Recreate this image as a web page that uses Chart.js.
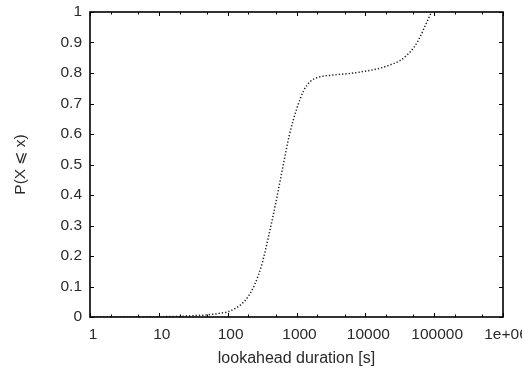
<!DOCTYPE html>
<html>
<head>
<meta charset="utf-8">
<script src="https://cdn.jsdelivr.net/npm/chart.js@4/dist/chart.umd.min.js"></script>
<style>
html,body{margin:0;padding:0;background:#fff;}
canvas{display:block;}
</style>
</head>
<body>
<canvas id="c" width="522" height="374"></canvas>
<script>
// lookahead duration [s] (x) and cumulative probability (y)
const durations = [1, 5, 10, 20, 30, 50, 70, 100, 126, 158, 200, 251, 316, 398, 501, 631, 794, 1000, 1259, 1585, 1995, 2512, 3981, 6310, 10000, 15849, 25119, 31623, 39811, 50119, 63096, 70795, 79433, 89125, 91201];
const cdf = [0, 0, 0.001, 0.002, 0.004, 0.007, 0.011, 0.017, 0.027, 0.042, 0.068, 0.11, 0.175, 0.27, 0.375, 0.49, 0.6, 0.68, 0.74, 0.772, 0.785, 0.79, 0.795, 0.799, 0.806, 0.815, 0.83, 0.84, 0.858, 0.882, 0.92, 0.945, 0.97, 0.995, 1.0];

const xTickValues = [1, 10, 100, 1000, 10000, 100000, 1000000];
const xTickLabels = ["1", "10", "100", "1000", "10000", "100000", "1e+06"];
const xMinorFactors = [2, 5];
const yTickValues = [0, 0.1, 0.2, 0.3, 0.4, 0.5, 0.6, 0.7, 0.8, 0.9, 1];
const yTickLabels = ["0", "0.1", "0.2", "0.3", "0.4", "0.5", "0.6", "0.7", "0.8", "0.9", "1"];

const xTitle = "lookahead duration [s]";
const yTitle = "P(X \u2A7D x)";

const FONT = "'Liberation Sans', Arial, Helvetica, sans-serif";
const TXT = '#2a2a2a';

const points = durations.map((d, i) => ({x: d, y: cdf[i]}));

const framePlugin = {
  id: 'frame',
  afterDatasetsDraw(chart) {
    const ctx = chart.ctx;
    const a = chart.chartArea;
    const xs = chart.scales.x, ys = chart.scales.y;
    ctx.save();
    ctx.strokeStyle = '#000';
    ctx.lineWidth = 1;
    ctx.beginPath();
    const majorLen = 4, minorLen = 2.5;
    xTickValues.forEach(v => {
      const px = Math.round(xs.getPixelForValue(v)) + 0.5;
      ctx.moveTo(px, a.bottom); ctx.lineTo(px, a.bottom - majorLen);
      ctx.moveTo(px, a.top); ctx.lineTo(px, a.top + majorLen);
      if (v < 1000000) {
        xMinorFactors.forEach(f => {
          const mx = Math.round(xs.getPixelForValue(v * f)) + 0.5;
          ctx.moveTo(mx, a.bottom); ctx.lineTo(mx, a.bottom - minorLen);
          ctx.moveTo(mx, a.top); ctx.lineTo(mx, a.top + minorLen);
        });
      }
    });
    yTickValues.forEach(v => {
      const py = Math.round(ys.getPixelForValue(v)) + 0.5;
      ctx.moveTo(a.left, py); ctx.lineTo(a.left + majorLen, py);
      ctx.moveTo(a.right, py); ctx.lineTo(a.right - majorLen, py);
    });
    ctx.stroke();
    ctx.lineWidth = 1.6;
    ctx.strokeRect(a.left, a.top, a.right - a.left, a.bottom - a.top);
    ctx.restore();
  }
};

new Chart(document.getElementById('c'), {
  type: 'scatter',
  data: {
    datasets: [{
      data: points,
      showLine: true,
      borderColor: '#222',
      borderWidth: 1.5,
      borderDash: [1.3, 2],
      pointRadius: 0,
      fill: false,
      cubicInterpolationMode: 'monotone'
    }]
  },
  options: {
    responsive: false,
    animation: false,
    devicePixelRatio: 1,
    layout: { padding: { left: 0, top: 12, right: 19, bottom: 0 } },
    plugins: { legend: { display: false }, tooltip: { enabled: false } },
    scales: {
      x: {
        type: 'logarithmic',
        min: 1, max: 1000000,
        grid: { display: false, drawTicks: false },
        border: { display: false },
        afterBuildTicks(scale) { scale.ticks = xTickValues.map(v => ({ value: v })); },
        afterFit(scale) { scale.height = 57; scale.paddingLeft = 0; scale.paddingRight = 0; },
        ticks: {
          autoSkip: false,
          maxRotation: 0,
          padding: 8,
          labelOffset: 3,
          color: TXT,
          font: { family: FONT, size: 15.5 },
          callback(value, index) { return xTickLabels[index]; }
        },
        title: {
          display: true, text: xTitle, color: TXT,
          font: { family: FONT, size: 16 },
          padding: { top: 0, bottom: 6 }
        }
      },
      y: {
        type: 'linear',
        min: 0, max: 1,
        grid: { display: false, drawTicks: false },
        border: { display: false },
        afterBuildTicks(scale) { scale.ticks = yTickValues.map(v => ({ value: v })); },
        afterFit(scale) { scale.width = 90; scale.paddingTop = 0; scale.paddingBottom = 0; },
        ticks: {
          padding: 8,
          color: TXT,
          font: { family: FONT, size: 15.5 },
          callback(value, index) { return yTickLabels[index]; }
        },
        title: {
          display: true, text: yTitle, color: TXT,
          font: { family: FONT, size: 15.5 },
          padding: { top: 11, bottom: 0 }
        }
      }
    }
  },
  plugins: [framePlugin]
});
</script>
</body>
</html>
